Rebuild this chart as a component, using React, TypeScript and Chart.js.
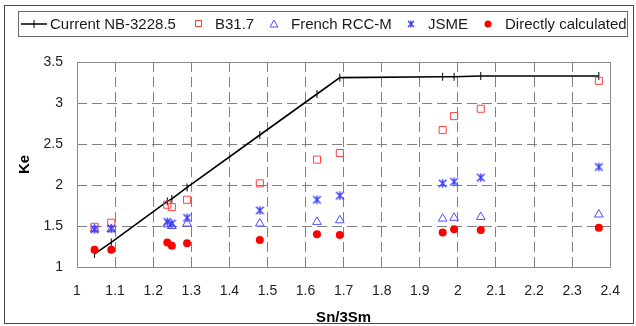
import React, { useEffect, useRef } from "react";
import { Chart, registerables } from "chart.js";

Chart.register(...registerables);

// ---- data ----
const xValues = [1.046, 1.09, 1.237, 1.249, 1.289, 1.48, 1.63, 1.69, 1.96, 1.99, 2.06, 2.37];
const nbValues = [1.16, 1.30, 1.80, 1.83, 1.97, 2.61, 3.11, 3.31, 3.32, 3.32, 3.33, 3.33];
const b317Values = [1.49, 1.54, 1.76, 1.73, 1.82, 2.02, 2.31, 2.39, 2.67, 2.84, 2.93, 3.27];
const rccmValues = [1.46, 1.46, 1.52, 1.50, 1.53, 1.53, 1.55, 1.57, 1.59, 1.60, 1.61, 1.64];
const jsmeValues = [1.46, 1.47, 1.55, 1.53, 1.60, 1.69, 1.82, 1.87, 2.02, 2.04, 2.09, 2.22];
const directValues = [1.21, 1.21, 1.30, 1.26, 1.29, 1.33, 1.40, 1.39, 1.42, 1.46, 1.45, 1.48];
const seriesNames = ["Current NB-3228.5", "B31.7", "French RCC-M", "JSME", "Directly calculated"];
const xTicks = [1, 1.1, 1.2, 1.3, 1.4, 1.5, 1.6, 1.7, 1.8, 1.9, 2, 2.1, 2.2, 2.3, 2.4];
const yTicks = [1, 1.5, 2, 2.5, 3, 3.5];
const xTitle = "Sn/3Sm";
const yTitle = "Ke";

const FONT = "'Liberation Sans', Arial, sans-serif";
const RED_SQ = "#ff4040";
const BLUE_TRI = "#5050ff";
const BLUE_STAR = "#3a3aff";
const RED_DOT = "#ff0000";

function drawStar(ctx: CanvasRenderingContext2D, cx: number, cy: number, r: number, color: string) {
  ctx.save();
  ctx.strokeStyle = color;
  ctx.lineWidth = 1.4;
  ctx.beginPath();
  ctx.moveTo(cx - r, cy - r);
  ctx.lineTo(cx + r, cy + r);
  ctx.moveTo(cx + r, cy - r);
  ctx.lineTo(cx - r, cy + r);
  ctx.moveTo(cx, cy - r - 0.5);
  ctx.lineTo(cx, cy + r + 0.5);
  ctx.stroke();
  ctx.restore();
}

function makeStarCanvas(): HTMLCanvasElement {
  const c = document.createElement("canvas");
  c.width = 11;
  c.height = 11;
  const g = c.getContext("2d")!;
  drawStar(g, 5.5, 5.5, 3.8, BLUE_STAR);
  return c;
}

const decorPlugin = {
  id: "decor",
  beforeDraw(chart: any) {
    const { ctx, width, height } = chart;
    ctx.save();
    ctx.fillStyle = "#ffffff";
    ctx.fillRect(0, 0, width, height);
    ctx.restore();
  },
  beforeDatasetsDraw(chart: any) {
    const { ctx, chartArea: a } = chart;
    ctx.save();
    ctx.strokeStyle = "#8a8a8a";
    ctx.lineWidth = 1;
    ctx.setLineDash([]);
    ctx.strokeRect(Math.round(a.left) + 0.5, Math.round(a.top) + 0.5, Math.round(a.right - a.left), Math.round(a.bottom - a.top));
    ctx.restore();
  },
  afterDraw(chart: any) {
    const { ctx, chartArea: a } = chart;
    ctx.save();
    // outer frame
    ctx.strokeStyle = "#4a4a4a";
    ctx.lineWidth = 1;
    ctx.strokeRect(4.5, 5.5, 629, 318);

    // legend box
    ctx.strokeStyle = "#6a6a6a";
    ctx.strokeRect(18.5, 11.5, 609, 25);

    const ly = 24;
    ctx.font = `15px ${FONT}`;
    ctx.fillStyle = "#1a1a1a";
    ctx.textBaseline = "middle";
    ctx.textAlign = "left";
    const textX = [50, 215, 291, 428, 505];
    seriesNames.forEach((n, i) => ctx.fillText(n, textX[i], ly + 1));

    // line sample with cross
    ctx.strokeStyle = "#000";
    ctx.lineWidth = 1.5;
    ctx.beginPath();
    ctx.moveTo(21, ly);
    ctx.lineTo(47, ly);
    ctx.stroke();
    ctx.lineWidth = 1;
    ctx.beginPath();
    ctx.moveTo(34, ly - 4);
    ctx.lineTo(34, ly + 4);
    ctx.stroke();

    // square
    ctx.strokeStyle = RED_SQ;
    ctx.lineWidth = 1;
    ctx.strokeRect(195.5, ly - 3.5, 6, 6);

    // triangle
    ctx.strokeStyle = BLUE_TRI;
    ctx.beginPath();
    ctx.moveTo(274, ly - 4);
    ctx.lineTo(278, ly + 3);
    ctx.lineTo(270, ly + 3);
    ctx.closePath();
    ctx.stroke();

    // star
    drawStar(ctx, 411, ly, 3, BLUE_STAR);

    // dot
    ctx.fillStyle = RED_DOT;
    ctx.beginPath();
    ctx.arc(488, ly, 3.5, 0, Math.PI * 2);
    ctx.fill();

    // axis titles
    ctx.fillStyle = "#000";
    ctx.font = `bold 15px ${FONT}`;
    ctx.textAlign = "center";
    ctx.textBaseline = "middle";
    ctx.fillText(xTitle, (a.left + a.right) / 2, 318);
    ctx.save();
    ctx.translate(25, (a.top + a.bottom) / 2);
    ctx.rotate(-Math.PI / 2);
    ctx.fillText(yTitle, 0, 0);
    ctx.restore();

    ctx.restore();
  },
};

const fmt = (v: any) => String(+Number(v).toFixed(2));

export default function App() {
  const ref = useRef<HTMLCanvasElement>(null);

  useEffect(() => {
    const canvas = ref.current!;
    const starImg = makeStarCanvas();
    const pts = (ys: number[]) => xValues.map((x, i) => ({ x, y: ys[i] }));

    const chart = new Chart(canvas, {
      type: "scatter",
      data: {
        datasets: [
          {
            label: seriesNames[4],
            data: pts(directValues),
            pointStyle: "circle",
            pointRadius: 4,
            backgroundColor: RED_DOT,
            borderColor: RED_DOT,
            borderWidth: 0,
          },
          {
            label: seriesNames[3],
            data: pts(jsmeValues),
            pointStyle: starImg as any,
            pointRadius: 5,
            backgroundColor: "transparent",
            borderColor: BLUE_STAR,
          },
          {
            label: seriesNames[2],
            data: pts(rccmValues),
            pointStyle: "triangle",
            pointRadius: 5,
            backgroundColor: "transparent",
            borderColor: BLUE_TRI,
            borderWidth: 1,
          },
          {
            label: seriesNames[1],
            data: pts(b317Values),
            pointStyle: "rect",
            pointRadius: 5,
            backgroundColor: "transparent",
            borderColor: RED_SQ,
            borderWidth: 1,
          },
          {
            label: seriesNames[0],
            data: pts(nbValues),
            showLine: true,
            borderColor: "#000",
            borderWidth: 1.6,
            pointStyle: "line" as any,
            pointRadius: 4,
            pointRotation: 90,
            pointBorderColor: "#000",
            pointBorderWidth: 1,
            backgroundColor: "#000",
          } as any,
        ],
      },
      options: {
        animation: false,
        responsive: false,
        devicePixelRatio: 1,
        layout: { padding: { top: 62, right: 14, left: 0, bottom: 0 } },
        plugins: {
          legend: { display: false },
          tooltip: { enabled: false },
        },
        scales: {
          x: {
            type: "linear",
            min: 1,
            max: 2.4,
            afterBuildTicks: (s: any) => {
              s.ticks = xTicks.map((v) => ({ value: v }));
            },
            afterFit: (s: any) => {
              s.height = 59;
            },
            grid: { color: "#808080", lineWidth: 1, drawTicks: false },
            border: { display: false, dash: [10, 5] },
            ticks: {
              autoSkip: false,
              maxRotation: 0,
              padding: 16,
              color: "#222",
              font: { family: FONT, size: 14 },
              callback: fmt,
            },
          },
          y: {
            type: "linear",
            min: 1,
            max: 3.5,
            afterBuildTicks: (s: any) => {
              s.ticks = yTicks.map((v) => ({ value: v }));
            },
            afterFit: (s: any) => {
              s.width = 77;
            },
            grid: { color: "#808080", lineWidth: 1, drawTicks: false },
            border: { display: false, dash: [10, 5] },
            ticks: {
              padding: 14,
              color: "#222",
              font: { family: FONT, size: 14 },
              callback: fmt,
            },
          },
        },
      },
      plugins: [decorPlugin],
    });
    return () => chart.destroy();
  }, []);

  return (
    <div style={{ position: "fixed", left: 0, top: 0, width: 636, height: 326 }}>
      <canvas ref={ref} width={636} height={326} style={{ width: 636, height: 326, display: "block" }} />
    </div>
  );
}
